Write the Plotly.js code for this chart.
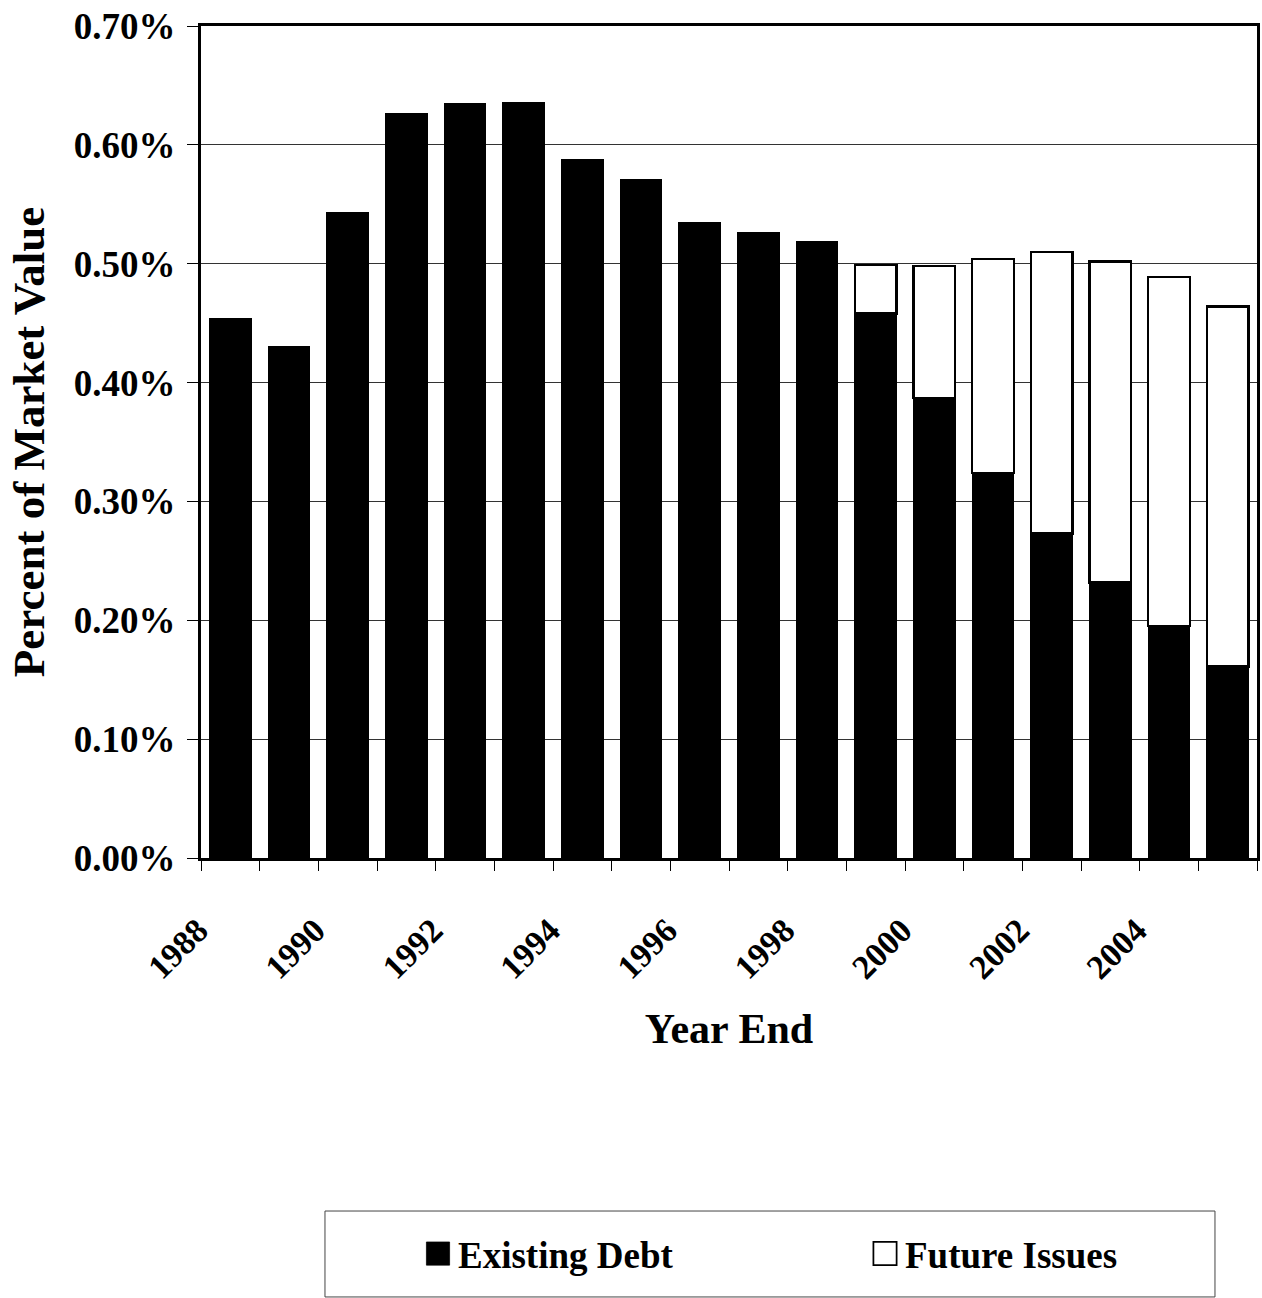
<!DOCTYPE html>
<html>
<head>
<meta charset="utf-8">
<script src="https://cdn.plot.ly/plotly-3.0.1.min.js"></script>
<style>
  html, body { margin: 0; padding: 0; background: #ffffff; }
  #chart { width: 1262px; height: 1298px; }
</style>
</head>
<body>
<div id="chart"></div>
<script>
// Year-end categories
const years = [1988, 1989, 1990, 1991, 1992, 1993, 1994, 1995, 1996,
               1997, 1998, 1999, 2000, 2001, 2002, 2003, 2004, 2005];
// Percent of market value (fractions)
const existingDebt = [0.00454, 0.00430, 0.00543, 0.00626, 0.00635, 0.00636, 0.00588, 0.00571, 0.00535,
                      0.00526, 0.00519, 0.00458, 0.00387, 0.00324, 0.00273, 0.00232, 0.00195, 0.00161];
const futureIssues = [null, null, null, null, null, null, null, null, null,
                      null, null, 0.00041, 0.00111, 0.00180, 0.00237, 0.00270, 0.00294, 0.00303];
const seriesNames = ['Existing Debt', 'Future Issues'];
const labelYears = [1988, 1990, 1992, 1994, 1996, 1998, 2000, 2002, 2004];

const FONT = '"Liberation Serif", "Times New Roman", Times, serif';

// Ticks sit on category boundaries (Excel style); labels on the left boundary of their year
const tickVals = years.map(y => y - 0.5).concat([years[years.length - 1] + 0.5]);
const tickText = years.map(y => labelYears.includes(y) ? String(y) : '').concat(['']);

const traces = [
  {
    type: 'bar', name: seriesNames[0], x: years, y: existingDebt,
    marker: { color: '#000000', line: { color: '#000000', width: 1 } },
    showlegend: false, hoverinfo: 'x+y'
  },
  {
    type: 'bar', name: seriesNames[1], x: years, y: futureIssues,
    marker: { color: '#ffffff', line: { color: '#000000', width: 2.5 } },
    showlegend: false, hoverinfo: 'x+y'
  },
  // legend keys
  {
    type: 'scatter', mode: 'markers', name: seriesNames[0], x: [null], y: [null], legend: 'legend',
    marker: { symbol: 'square', size: 16, color: '#000000', line: { color: '#000000', width: 0.5 } }
  },
  {
    type: 'scatter', mode: 'markers', name: seriesNames[1], x: [null], y: [null], legend: 'legend2',
    marker: { symbol: 'square', size: 16, color: '#ffffff', line: { color: '#000000', width: 1.2 } }
  }
];

const legendStyle = {
  orientation: 'h', xanchor: 'left', yanchor: 'middle', y: -0.476,
  font: { family: FONT, size: 37, weight: 'bold', color: '#000' },
  bgcolor: 'rgba(0,0,0,0)', borderwidth: 0, itemclick: false
};

const layout = {
  width: 1262, height: 1298,
  paper_bgcolor: '#ffffff', plot_bgcolor: '#ffffff',
  margin: { l: 201, r: 5, t: 26, b: 440 },
  barmode: 'stack', bargap: 0.29,
  font: { family: FONT, color: '#000000' },
  xaxis: {
    type: 'linear', range: [1987.5, 2005.5],
    tickmode: 'array', tickvals: tickVals, ticktext: tickText,
    tickangle: -45, ticks: 'outside', ticklen: 10, tickwidth: 1, tickcolor: '#000',
    tickfont: { family: FONT, size: 34, weight: 'bold', color: '#000' },
    ticklabelstandoff: 26, ticklabelshift: -3,
    showgrid: false, zeroline: false,
    showline: true, linecolor: '#000', linewidth: 3, mirror: true,
    title: { text: 'Year End', font: { family: FONT, size: 42, weight: 'bold', color: '#000' }, standoff: 29 },
    automargin: false
  },
  yaxis: {
    range: [0, 0.007], dtick: 0.001, tick0: 0, tickformat: '.2%',
    ticks: 'outside', ticklen: 11, tickwidth: 1, tickcolor: '#000',
    tickfont: { family: FONT, size: 37, weight: 'bold', color: '#000' },
    ticklabelstandoff: 4,
    showgrid: true, gridcolor: '#333333', gridwidth: 1,
    zeroline: false,
    showline: true, linecolor: '#000', linewidth: 3, mirror: true,
    title: { text: 'Percent of Market Value', font: { family: FONT, size: 45, weight: 'bold', color: '#000' }, standoff: 16 },
    automargin: false
  },
  showlegend: true,
  legend: Object.assign({}, legendStyle, { x: 0.2055 }),
  legend2: Object.assign({}, legendStyle, { x: 0.6288 }),
  shapes: [
    { type: 'rect', xref: 'paper', yref: 'paper',
      x0: 0.1174, x1: 0.9602, y0: -0.5276, y1: -0.4243,
      line: { color: '#444', width: 1 }, fillcolor: 'rgba(0,0,0,0)', layer: 'below' }
  ]
};

Plotly.newPlot('chart', traces, layout, { displayModeBar: false, staticPlot: true }).then(gd => {
  // enlarge legend key squares (Plotly caps legend marker size at 16px)
  gd.querySelectorAll('.legendpoints path.scatterpts').forEach(p => {
    const t = p.getAttribute('transform') || '';
    p.setAttribute('transform', t + ' scale(1.45)');
  });
});
</script>
</body>
</html>
